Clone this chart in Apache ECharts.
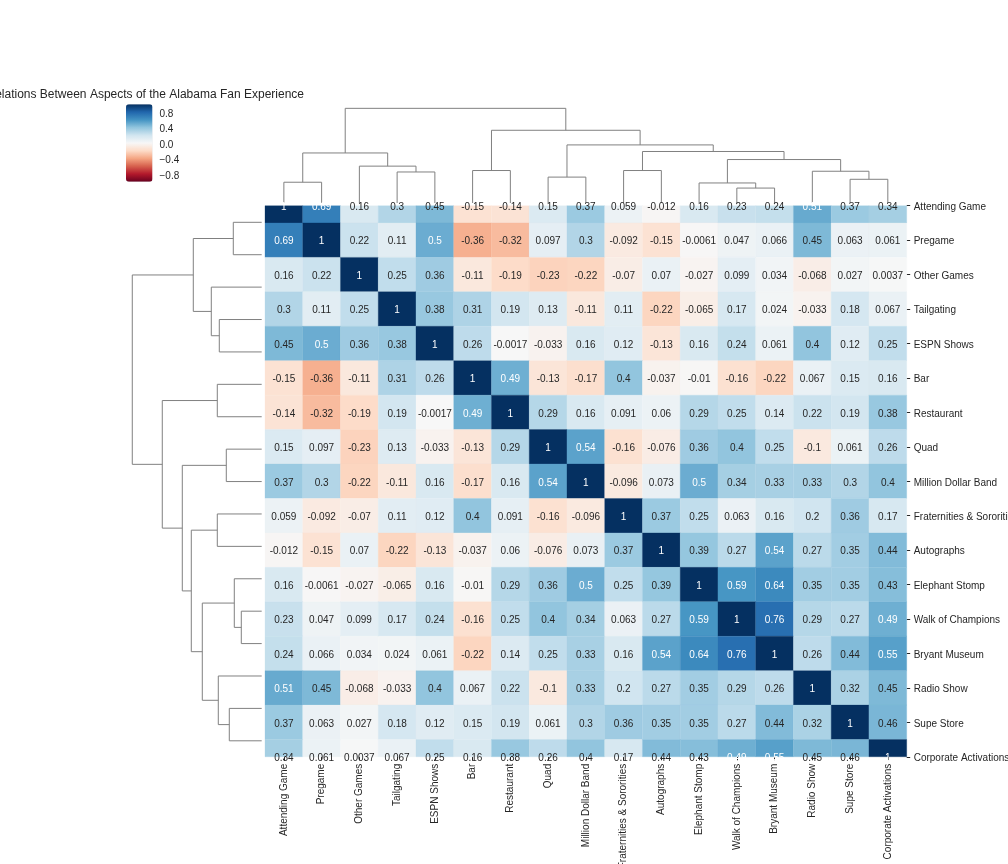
<!DOCTYPE html>
<html><head><meta charset="utf-8">
<script src="https://cdn.jsdelivr.net/npm/echarts@6/dist/echarts.min.js"></script>
<style>html,body{margin:0;padding:0;background:#fff}#c{width:1008px;height:864px}</style>
</head><body><div id="c"></div>
<script>
// ---------- DATA ----------
const labels = ['Attending Game','Pregame','Other Games','Tailgating','ESPN Shows','Bar','Restaurant','Quad',
  'Million Dollar Band','Fraternities & Sororities','Autographs','Elephant Stomp','Walk of Champions',
  'Bryant Museum','Radio Show','Supe Store','Corporate Activations'];
const rowAttending   = [1,0.69,0.16,0.3,0.45,-0.15,-0.14,0.15,0.37,0.059,-0.012,0.16,0.23,0.24,0.51,0.37,0.34];
const rowPregame     = [0.69,1,0.22,0.11,0.5,-0.36,-0.32,0.097,0.3,-0.092,-0.15,-0.0061,0.047,0.066,0.45,0.063,0.061];
const rowOtherGames  = [0.16,0.22,1,0.25,0.36,-0.11,-0.19,-0.23,-0.22,-0.07,0.07,-0.027,0.099,0.034,-0.068,0.027,0.0037];
const rowTailgating  = [0.3,0.11,0.25,1,0.38,0.31,0.19,0.13,-0.11,0.11,-0.22,-0.065,0.17,0.024,-0.033,0.18,0.067];
const rowESPN        = [0.45,0.5,0.36,0.38,1,0.26,-0.0017,-0.033,0.16,0.12,-0.13,0.16,0.24,0.061,0.4,0.12,0.25];
const rowBar         = [-0.15,-0.36,-0.11,0.31,0.26,1,0.49,-0.13,-0.17,0.4,-0.037,-0.01,-0.16,-0.22,0.067,0.15,0.16];
const rowRestaurant  = [-0.14,-0.32,-0.19,0.19,-0.0017,0.49,1,0.29,0.16,0.091,0.06,0.29,0.25,0.14,0.22,0.19,0.38];
const rowQuad        = [0.15,0.097,-0.23,0.13,-0.033,-0.13,0.29,1,0.54,-0.16,-0.076,0.36,0.4,0.25,-0.1,0.061,0.26];
const rowBand        = [0.37,0.3,-0.22,-0.11,0.16,-0.17,0.16,0.54,1,-0.096,0.073,0.5,0.34,0.33,0.33,0.3,0.4];
const rowFrat        = [0.059,-0.092,-0.07,0.11,0.12,0.4,0.091,-0.16,-0.096,1,0.37,0.25,0.063,0.16,0.2,0.36,0.17];
const rowAutographs  = [-0.012,-0.15,0.07,-0.22,-0.13,-0.037,0.06,-0.076,0.073,0.37,1,0.39,0.27,0.54,0.27,0.35,0.44];
const rowElephant    = [0.16,-0.0061,-0.027,-0.065,0.16,-0.01,0.29,0.36,0.5,0.25,0.39,1,0.59,0.64,0.35,0.35,0.43];
const rowWalk        = [0.23,0.047,0.099,0.17,0.24,-0.16,0.25,0.4,0.34,0.063,0.27,0.59,1,0.76,0.29,0.27,0.49];
const rowBryant      = [0.24,0.066,0.034,0.024,0.061,-0.22,0.14,0.25,0.33,0.16,0.54,0.64,0.76,1,0.26,0.44,0.55];
const rowRadio       = [0.51,0.45,-0.068,-0.033,0.4,0.067,0.22,-0.1,0.33,0.2,0.27,0.35,0.29,0.26,1,0.32,0.45];
const rowSupe        = [0.37,0.063,0.027,0.18,0.12,0.15,0.19,0.061,0.3,0.36,0.35,0.35,0.27,0.44,0.32,1,0.46];
const rowCorporate   = [0.34,0.061,0.0037,0.067,0.25,0.16,0.38,0.26,0.4,0.17,0.44,0.43,0.49,0.55,0.45,0.46,1];
const corrRows = [rowAttending,rowPregame,rowOtherGames,rowTailgating,rowESPN,rowBar,rowRestaurant,rowQuad,
  rowBand,rowFrat,rowAutographs,rowElephant,rowWalk,rowBryant,rowRadio,rowSupe,rowCorporate];

// hierarchical linkage (scipy style: leaves 0..16 in display order, clusters 17+)
const linkA      = [12,11,0,15,7,3,14,5,9,2,18,19,25,21,24,28];
const linkB      = [13,17,1,16,8,4,20,6,10,22,23,26,27,29,30,31];
const linkHeight = [0.204,0.274,0.284,0.324,0.354,0.424,0.434,0.444,0.444,0.504,0.594,0.684,0.704,0.794,0.994,1.294];

const cbarTicks = [-0.8,-0.4,0,0.4,0.8];
const rdbuR = ['#67001f','#b2182b','#d6604d','#f4a582','#fddbc7','#f7f7f7','#d1e5f0','#92c5de','#4393c3','#2166ac','#053061'];
const titleText = 'Correlations Between Aspects of the Alabama Fan Experience';

// ---------- BUILD ----------
const n = labels.length;
const cells = [];
corrRows.forEach((row, r) => row.forEach((v, c) => cells.push([c, r, v])));

const leafPos = [], nodeH = [];
for (let i = 0; i < n; i++) { leafPos[i] = 5 + 10 * i; nodeH[i] = 0; }
const dendro = [];
for (let k = 0; k < linkA.length; k++) {
  const a = linkA[k], b = linkB[k], h = linkHeight[k];
  dendro.push([leafPos[a], nodeH[a], leafPos[b], nodeH[b], h]);
  leafPos[n + k] = (leafPos[a] + leafPos[b]) / 2; nodeH[n + k] = h;
}
const maxH = Math.max.apply(null, linkHeight) * 1.05;

const FONT = '"Liberation Sans", Arial, sans-serif';
const TXT = '#262626';
const LINE = '#808080';

function lum(c) {
  const p = echarts.color.parse(c);
  const f = x => { x /= 255; return x <= 0.03928 ? x / 12.92 : Math.pow((x + 0.055) / 1.055, 2.4); };
  return 0.2126 * f(p[0]) + 0.7152 * f(p[1]) + 0.0722 * f(p[2]);
}

function cellItem(params, api) {
  const c = api.coord([api.value(0), api.value(1)]);
  const s = api.size([1, 1]);
  const cs = params.coordSys;
  const clip = { x: cs.x, y: cs.y + s[1] / 2, width: cs.width, height: cs.height - s[1] };
  const rect = echarts.graphic.clipRectByRect({ x: c[0] - s[0] / 2, y: c[1] - s[1] / 2, width: s[0], height: s[1] }, clip);
  const color = api.visual('color');
  const v = api.value(2);
  const children = [];
  if (rect) children.push({ type: 'rect', shape: rect, style: { fill: color, stroke: color, lineWidth: 0.3 } });
  children.push({ type: 'text', x: c[0], y: c[1] + 1.5, z2: 10,
    style: { text: String(v), fill: lum(color) > 0.408 ? TXT : '#ffffff', font: '10px ' + FONT,
      textAlign: 'center', textVerticalAlign: 'middle', align: 'center', verticalAlign: 'middle' } });
  return { type: 'group', children };
}

function dendroItem(swap) {
  return function (params, api) {
    const pt = (x, y) => swap ? api.coord([y, x]) : api.coord([x, y]);
    const pts = [pt(api.value(0), api.value(1)), pt(api.value(0), api.value(4)),
                 pt(api.value(2), api.value(4)), pt(api.value(2), api.value(3))];
    return { type: 'polyline', shape: { points: pts }, style: { stroke: LINE, lineWidth: 1, fill: null } };
  };
}

const hmLeft = 265, hmWidth = 641.7, hmTop = 188.5, hmHeight = 585.5;
const halfRow = hmHeight / n / 2;
const lowRich = { l: { fontSize: 10, color: TXT, fontFamily: FONT, lineHeight: 13, verticalAlign: 'bottom' } };

const chart = echarts.init(document.getElementById('c'), null, { renderer: 'canvas' });
chart.setOption({
  animation: false,
  backgroundColor: '#ffffff',
  textStyle: { fontFamily: FONT },
  graphic: [{ type: 'text', x: 304, y: 95,
    style: { text: titleText, font: '12px ' + FONT, fill: TXT, textAlign: 'right', textVerticalAlign: 'middle', align: 'right', verticalAlign: 'middle' } }],
  grid: [
    { left: hmLeft, top: hmTop, width: hmWidth, height: hmHeight, outerBoundsMode: 'none', containLabel: false },
    { left: hmLeft, top: 103.6, width: hmWidth, height: 99.4, outerBoundsMode: 'none', containLabel: false },
    { left: 125.8, top: 206.1, width: 135.9, height: 550.9, outerBoundsMode: 'none', containLabel: false },
    { left: 126, top: 112.3, width: 26.5, height: 62, outerBoundsMode: 'none', containLabel: false }
  ],
  xAxis: [
    { gridIndex: 0, type: 'category', data: labels, position: 'bottom', offset: -halfRow,
      axisLine: { show: false }, splitLine: { show: false },
      axisTick: { show: true, alignWithLabel: true, length: 3.5, lineStyle: { color: TXT } },
      axisLabel: { rotate: 90, interval: 0, fontSize: 10, color: TXT, fontFamily: FONT, margin: 7 } },
    { gridIndex: 1, type: 'value', min: 0, max: n * 10, show: false },
    { gridIndex: 2, type: 'value', min: 0, max: maxH, inverse: true, show: false },
    { gridIndex: 3, type: 'value', min: 0, max: 1, show: false }
  ],
  yAxis: [
    { gridIndex: 0, type: 'category', data: labels, inverse: true, position: 'right',
      axisLine: { show: false }, splitLine: { show: false },
      axisTick: { show: true, alignWithLabel: true, length: 3.5, lineStyle: { color: TXT } },
      axisLabel: { interval: 0, fontSize: 10, color: TXT, fontFamily: FONT, margin: 7,
        formatter: v => '{l|' + v + '}', rich: lowRich } },
    { gridIndex: 1, type: 'value', min: 0, max: maxH, show: false },
    { gridIndex: 2, type: 'value', min: 0, max: n * 10, inverse: true, show: false },
    { gridIndex: 3, type: 'value', position: 'right', min: cbarTicks[0], max: cbarTicks[cbarTicks.length - 1], interval: 0.4,
      axisLine: { show: false }, splitLine: { show: false },
      axisTick: { show: true, length: 3.5, lineStyle: { color: TXT } },
      axisLabel: { fontSize: 10, color: TXT, fontFamily: FONT, margin: 7, rich: lowRich,
        formatter: v => '{l|' + Number(v).toFixed(1).replace('-', '\u2212') + '}' } }
  ],
  visualMap: {
    type: 'continuous', min: -1, max: 1, dimension: 2, seriesIndex: 0,
    inRange: { color: rdbuR }, calculable: false, hoverLink: false,
    left: 126, top: 104.3, itemWidth: 26.5, itemHeight: 77.5, padding: 0, text: null, showLabel: false
  },
  series: [
    { type: 'custom', xAxisIndex: 0, yAxisIndex: 0, renderItem: cellItem, data: cells, encode: { x: 0, y: 1 }, z: 2 },
    { type: 'custom', xAxisIndex: 1, yAxisIndex: 1, renderItem: dendroItem(false), data: dendro, encode: { x: 0, y: 1 }, silent: true, z: 1 },
    { type: 'custom', xAxisIndex: 2, yAxisIndex: 2, renderItem: dendroItem(true), data: dendro, encode: { x: 1, y: 0 }, silent: true, z: 1 }
  ]
});
</script></body></html>
